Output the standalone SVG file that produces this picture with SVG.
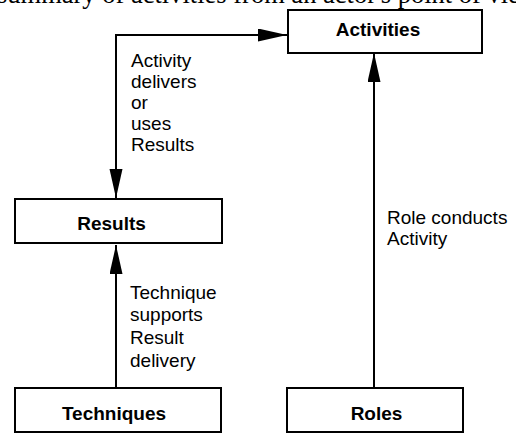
<svg xmlns="http://www.w3.org/2000/svg" width="516" height="433" viewBox="0 0 516 433">
  <style>
    .box { fill: #ffffff; stroke: #000000; stroke-width: 2; }
    .title { font-family: "Liberation Sans", Arial, sans-serif; font-weight: bold; font-size: 19px; fill: #000000; text-anchor: middle; }
    .label { font-family: "Liberation Sans", Arial, sans-serif; font-size: 19px; fill: #000000; }
    .heading { font-family: "Liberation Serif", "Times New Roman", serif; font-size: 26.5px; fill: #000000; }
    .link { fill: none; stroke: #000000; stroke-width: 2; }
  </style>
  <defs>
    <marker id="arrow" markerUnits="userSpaceOnUse" markerWidth="30" markerHeight="14" refX="29" refY="6.5" orient="auto-start-reverse">
      <path d="M0,0 L29,6.5 L0,13 z" fill="#000000"/>
    </marker>
  </defs>

  <rect width="516" height="433" fill="#ffffff"/>

  <!-- running text line above the figure, clipped by the page edge -->
  <text class="heading" x="-3" y="2.5">summary of activities from an actor's point of view</text>

  <!-- connectors -->
  <g id="connectors">
    <path class="link" d="M287,35 L116,35 L116,198" marker-start="url(#arrow)" marker-end="url(#arrow)"/>
    <path class="link" d="M116,388 L116,245" marker-end="url(#arrow)"/>
    <path class="link" d="M374,388 L374,53" marker-end="url(#arrow)"/>
    <g class="label">
      <text x="131" y="67">Activity</text>
      <text x="131" y="88">delivers</text>
      <text x="131" y="109">or</text>
      <text x="131" y="130">uses</text>
      <text x="131" y="151">Results</text>
      <text x="130" y="299">Technique</text>
      <text x="130" y="321">supports</text>
      <text x="130" y="344">Result</text>
      <text x="130" y="367">delivery</text>
      <text x="387" y="224">Role conducts</text>
      <text x="387" y="245">Activity</text>
    </g>
  </g>

  <g id="activities">
    <rect class="box" x="288" y="10" width="194" height="43"/>
    <text class="title" x="378" y="35.5">Activities</text>
  </g>
  <g id="results">
    <rect class="box" x="15" y="199" width="207" height="44"/>
    <text class="title" x="111.5" y="230">Results</text>
  </g>
  <g id="techniques">
    <rect class="box" x="15" y="388" width="206" height="44"/>
    <text class="title" x="114" y="420">Techniques</text>
  </g>
  <g id="roles">
    <rect class="box" x="287" y="388" width="176" height="44"/>
    <text class="title" x="376.5" y="420">Roles</text>
  </g>
</svg>
